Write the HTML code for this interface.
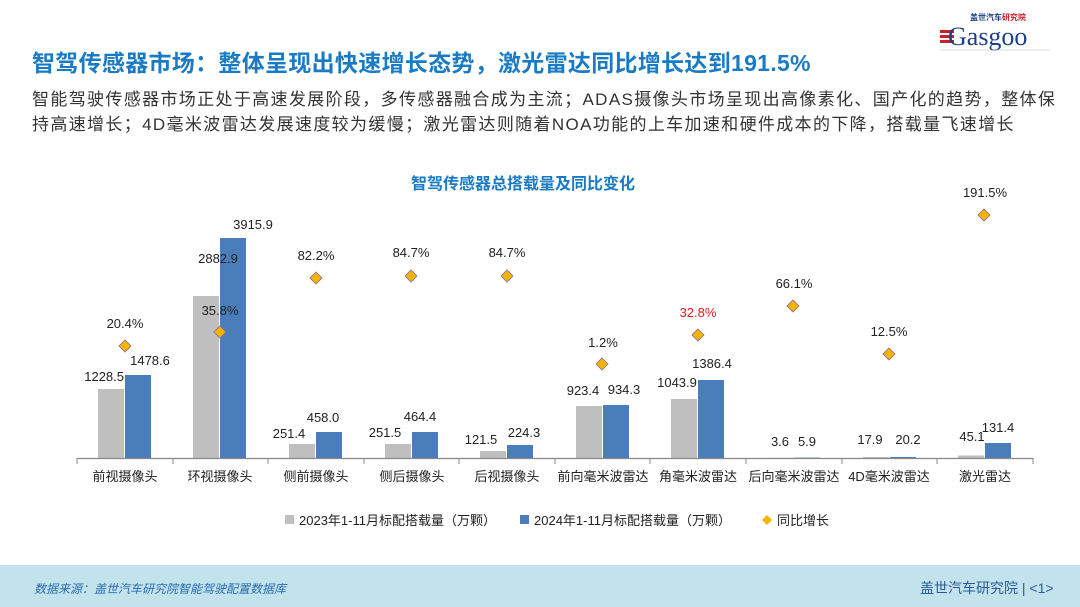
<!DOCTYPE html>
<html><head><meta charset="utf-8"><style>
body{margin:0;width:1080px;height:607px;overflow:hidden;background:#fff;font-family:"Liberation Sans","Noto Sans CJK SC",sans-serif;position:relative}
.t{position:absolute;left:32px;top:44px;font-size:23px;color:#1a7bc4;font-weight:bold;white-space:nowrap;letter-spacing:0.3px}
.b{position:absolute;left:32px;top:87px;font-size:17px;color:#333;line-height:25px;width:1040px;letter-spacing:1.35px}
.f{position:absolute;left:0;top:565px;width:1080px;height:42px;background:#c3e3ec}
</style></head><body>
<div class="t">智驾传感器市场：整体呈现出快速增长态势，激光雷达同比增长达到191.5%</div>
<div class="b">智能驾驶传感器市场正处于高速发展阶段，多传感器融合成为主流；ADAS摄像头市场呈现出高像素化、国产化的趋势，整体保持高速增长；4D毫米波雷达发展速度较为缓慢；激光雷达则随着NOA功能的上车加速和硬件成本的下降，搭载量飞速增长</div>
<svg style="position:absolute;left:930px;top:8px" width="130" height="45">
<text x="40" y="12" font-size="8" fill="#1c3f8a" font-family="Noto Sans CJK SC,sans-serif" font-weight="bold">盖世汽车<tspan fill="#c8202d">研究院</tspan></text>
<rect x="10" y="22" width="14" height="3" fill="#c8202d"/><rect x="10" y="27" width="14" height="3" fill="#c8202d"/><rect x="10" y="32" width="14" height="3" fill="#c8202d"/>
<text x="18" y="37" font-size="26" fill="#1c3f8a" font-family="Liberation Serif,serif">Gasgoo</text>
<line x1="10" y1="42" x2="120" y2="42" stroke="#bbb" stroke-width="0.6"/>
</svg>
<svg style="position:absolute;left:0;top:0" width="1080" height="607" font-family="Liberation Sans,Noto Sans CJK SC,sans-serif">
<text x="523" y="189" font-size="16" font-weight="bold" fill="#1a7bc4" text-anchor="middle">智驾传感器总搭载量及同比变化</text>
<g fill="#bfbfbf">
<rect x="98" y="389" width="26" height="69"/><rect x="193" y="296" width="26" height="162"/><rect x="289" y="444" width="26" height="14"/><rect x="385" y="444" width="26" height="14"/><rect x="480" y="451" width="26" height="7"/><rect x="576" y="406" width="26" height="52"/><rect x="671" y="399" width="26" height="59"/><rect x="767" y="457.8" width="26" height="0.5"/><rect x="863" y="457" width="26" height="1"/><rect x="958" y="455.5" width="26" height="2.5"/>
</g>
<g fill="#4a7ebb">
<rect x="125" y="375" width="26" height="83"/><rect x="220" y="238" width="26" height="220"/><rect x="316" y="432" width="26" height="26"/><rect x="412" y="432" width="26" height="26"/><rect x="507" y="445" width="26" height="13"/><rect x="603" y="405" width="26" height="53"/><rect x="698" y="380" width="26" height="78"/><rect x="794" y="457.6" width="26" height="0.6"/><rect x="890" y="457" width="26" height="1.2"/><rect x="985" y="443" width="26" height="15"/>
</g>
<line x1="77" y1="458.5" x2="1033" y2="458.5" stroke="#888" stroke-width="1.2"/>
<g stroke="#888"><line x1="77" y1="458" x2="77" y2="464"/><line x1="173" y1="458" x2="173" y2="464"/><line x1="268" y1="458" x2="268" y2="464"/><line x1="364" y1="458" x2="364" y2="464"/><line x1="459" y1="458" x2="459" y2="464"/><line x1="555" y1="458" x2="555" y2="464"/><line x1="650" y1="458" x2="650" y2="464"/><line x1="746" y1="458" x2="746" y2="464"/><line x1="842" y1="458" x2="842" y2="464"/><line x1="937" y1="458" x2="937" y2="464"/><line x1="1033" y1="458" x2="1033" y2="464"/></g>
<g font-size="13" fill="#222" text-anchor="middle">
<text x="125" y="481">前视摄像头</text><text x="220" y="481">环视摄像头</text><text x="316" y="481">侧前摄像头</text><text x="412" y="481">侧后摄像头</text><text x="507" y="481">后视摄像头</text><text x="603" y="481">前向毫米波雷达</text><text x="698" y="481">角毫米波雷达</text><text x="794" y="481">后向毫米波雷达</text><text x="889" y="481">4D毫米波雷达</text><text x="985" y="481">激光雷达</text>
</g>
<g font-size="13" fill="#222" text-anchor="middle">
<text x="104" y="381" text-anchor="end" dx="20">1228.5</text><text x="150" y="365">1478.6</text>
<text x="218" y="263">2882.9</text><text x="253" y="229">3915.9</text>
<text x="289" y="438">251.4</text><text x="323" y="422">458.0</text>
<text x="385" y="437">251.5</text><text x="420" y="421">464.4</text>
<text x="481" y="444">121.5</text><text x="524" y="437">224.3</text>
<text x="583" y="395">923.4</text><text x="624" y="394">934.3</text>
<text x="677" y="387">1043.9</text><text x="712" y="368">1386.4</text>
<text x="780" y="446">3.6</text><text x="807" y="446">5.9</text>
<text x="870" y="444">17.9</text><text x="908" y="444">20.2</text>
<text x="972" y="441">45.1</text><text x="998" y="432">131.4</text>
<text x="125" y="328">20.4%</text><text x="220" y="315">35.8%</text><text x="316" y="260">82.2%</text><text x="411" y="257">84.7%</text><text x="507" y="257">84.7%</text><text x="603" y="347">1.2%</text><text x="698" y="317" fill="#e02020">32.8%</text><text x="794" y="288">66.1%</text><text x="889" y="336">12.5%</text><text x="985" y="197">191.5%</text>
</g>
<g fill="#f5b400" stroke="#8a6a9a" stroke-width="0.8">
<path d="M125 340l6 6-6 6-6-6z"/><path d="M220 326l6 6-6 6-6-6z"/><path d="M316 272l6 6-6 6-6-6z"/><path d="M411 270l6 6-6 6-6-6z"/><path d="M507 270l6 6-6 6-6-6z"/><path d="M602 358l6 6-6 6-6-6z"/><path d="M698 329l6 6-6 6-6-6z"/><path d="M793 300l6 6-6 6-6-6z"/><path d="M889 348l6 6-6 6-6-6z"/><path d="M984 209l6 6-6 6-6-6z"/>
</g>
<g font-size="13" fill="#222">
<rect x="285" y="515" width="9" height="9" fill="#bfbfbf"/><text x="299" y="525">2023年1-11月标配搭载量（万颗）</text>
<rect x="520" y="515" width="9" height="9" fill="#4a7ebb"/><text x="534" y="525">2024年1-11月标配搭载量（万颗）</text>
<path d="M767 515l5 5-5 5-5-5z" fill="#f5b400"/><text x="777" y="525">同比增长</text>
</g>
</svg>
<div class="f">
<div style="position:absolute;left:34px;top:15px;font-size:12px;font-style:italic;color:#2a6cb0">数据来源：盖世汽车研究院智能驾驶配置数据库</div>
<div style="position:absolute;left:920px;top:13px;font-size:14px;color:#2a5a9a">盖世汽车研究院 | &lt;1&gt;</div>
</div>
</body></html>
